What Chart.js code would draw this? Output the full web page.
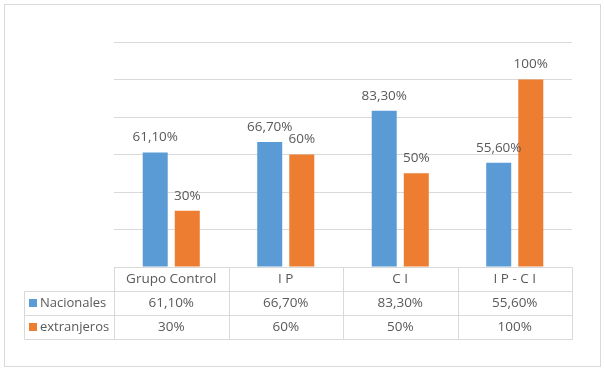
<!DOCTYPE html>
<html>
<head>
<meta charset="utf-8">
<script src="https://cdn.jsdelivr.net/npm/chart.js@4.4.1/dist/chart.umd.min.js"></script>
<style>
  html, body { margin: 0; padding: 0; background: #fff; }
  #wrap { position: relative; width: 604px; height: 370px; }
</style>
</head>
<body>
<div id="wrap"><canvas id="chart" width="604" height="370"></canvas></div>
<script>
// categorias y series
const categories = ['Grupo Control', 'I P', 'C I', 'I P - C I'];
const nacionales = [61.1, 66.7, 83.3, 55.6];
const extranjeros = [30, 60, 50, 100];
const seriesNames = ['Nacionales', 'extranjeros'];
const seriesDecimals = [2, 0];
const yTicks = [0, 20, 40, 60, 80, 100, 120];

const blue = '#5b9bd5';
const orange = '#ed7d31';
const textColor = '#595959';
const lineColor = '#d9d9d9';
const fontFamily = '"Open Sans", "Noto Sans", sans-serif';
const fontSize = 13.5;

function fmt(v, dec) {
    return v.toFixed(dec).replace('.', ',') + '%';
}

// marco exterior
const framePlugin = {
    id: 'frame',
    beforeDraw(chart) {
        const ctx = chart.ctx;
        ctx.save();
        ctx.fillStyle = '#fff';
        ctx.fillRect(0, 0, chart.width, chart.height);
        ctx.strokeStyle = lineColor;
        ctx.lineWidth = 1;
        ctx.strokeRect(4.5, 4.5, chart.width - 8, chart.height - 8);
        ctx.restore();
    }
};

// etiquetas encima de las barras
const labelsPlugin = {
    id: 'barLabels',
    afterDatasetsDraw(chart) {
        const ctx = chart.ctx;
        ctx.save();
        ctx.font = fontSize + 'px ' + fontFamily;
        ctx.fillStyle = textColor;
        ctx.textAlign = 'center';
        ctx.textBaseline = 'middle';
        chart.data.datasets.forEach((ds, di) => {
            chart.getDatasetMeta(di).data.forEach((bar, i) => {
                ctx.fillText(fmt(ds.data[i], seriesDecimals[di]), bar.x, bar.y - 15);
            });
        });
        ctx.restore();
    }
};

// tabla de datos debajo del grafico
const tablePlugin = {
    id: 'dataTable',
    afterDraw(chart) {
        const ctx = chart.ctx;
        const x = chart.scales.x;
        const area = chart.chartArea;
        const rowH = 24;
        const top = area.bottom;
        const legendLeft = area.left - 90;
        const colW = (area.right - area.left) / categories.length;
        const px = v => Math.round(v) + 0.5;

        ctx.save();
        ctx.strokeStyle = lineColor;
        ctx.lineWidth = 1;
        ctx.beginPath();
        // lineas horizontales
        ctx.moveTo(px(area.left), px(top)); ctx.lineTo(px(area.right), px(top));
        for (let r = 1; r <= 3; r++) {
            ctx.moveTo(px(legendLeft), px(top + r * rowH));
            ctx.lineTo(px(area.right), px(top + r * rowH));
        }
        // lineas verticales
        ctx.moveTo(px(legendLeft), px(top + rowH)); ctx.lineTo(px(legendLeft), px(top + 3 * rowH));
        for (let c = 0; c <= categories.length; c++) {
            const cx = area.left + c * colW;
            ctx.moveTo(px(cx), px(top)); ctx.lineTo(px(cx), px(top + 3 * rowH));
        }
        ctx.stroke();

        ctx.font = fontSize + 'px ' + fontFamily;
        ctx.fillStyle = textColor;
        ctx.textAlign = 'center';
        ctx.textBaseline = 'middle';
        categories.forEach((c, i) => {
            ctx.fillText(c, x.getPixelForValue(i), top + rowH / 2);
        });
        chart.data.datasets.forEach((ds, di) => {
            const cy = top + rowH * (di + 1) + rowH / 2;
            ctx.font = fontSize + 'px ' + fontFamily;
            ds.data.forEach((v, i) => {
                ctx.fillStyle = textColor;
                ctx.textAlign = 'center';
                ctx.fillText(fmt(v, seriesDecimals[di]), x.getPixelForValue(i), cy);
            });
            ctx.fillStyle = ds.backgroundColor;
            ctx.fillRect(legendLeft + 5, cy - 4, 8, 8);
            ctx.fillStyle = textColor;
            ctx.textAlign = 'left';
            ctx.font = '13px ' + fontFamily;
            ctx.fillText(seriesNames[di], legendLeft + 16, cy);
        });
        ctx.restore();
    }
};

const chartData = {
    labels: categories,
    datasets: [
        { label: seriesNames[0], data: nacionales, backgroundColor: blue },
        { label: seriesNames[1], data: extranjeros, backgroundColor: orange }
    ]
};

const chartConfig = {
    type: 'bar',
    data: chartData,
    options: {
        responsive: false,
        animation: false,
        layout: { padding: { left: 114, right: 32, top: 42, bottom: 103 } },
        datasets: {
            bar: { categoryPercentage: 0.56, barPercentage: 0.78 }
        },
        plugins: {
            legend: { display: false },
            tooltip: { enabled: false }
        },
        scales: {
            x: { display: false },
            y: {
                min: yTicks[0],
                max: yTicks[yTicks.length - 1],
                afterBuildTicks(axis) { axis.ticks = yTicks.map(v => ({ value: v })); },
                ticks: { display: false },
                border: { display: false },
                grid: { color: lineColor, lineWidth: 1, drawTicks: false }
            }
        }
    },
    plugins: [framePlugin, labelsPlugin, tablePlugin]
};

const chart = new Chart(document.getElementById('chart'), chartConfig);
</script>
</body>
</html>
